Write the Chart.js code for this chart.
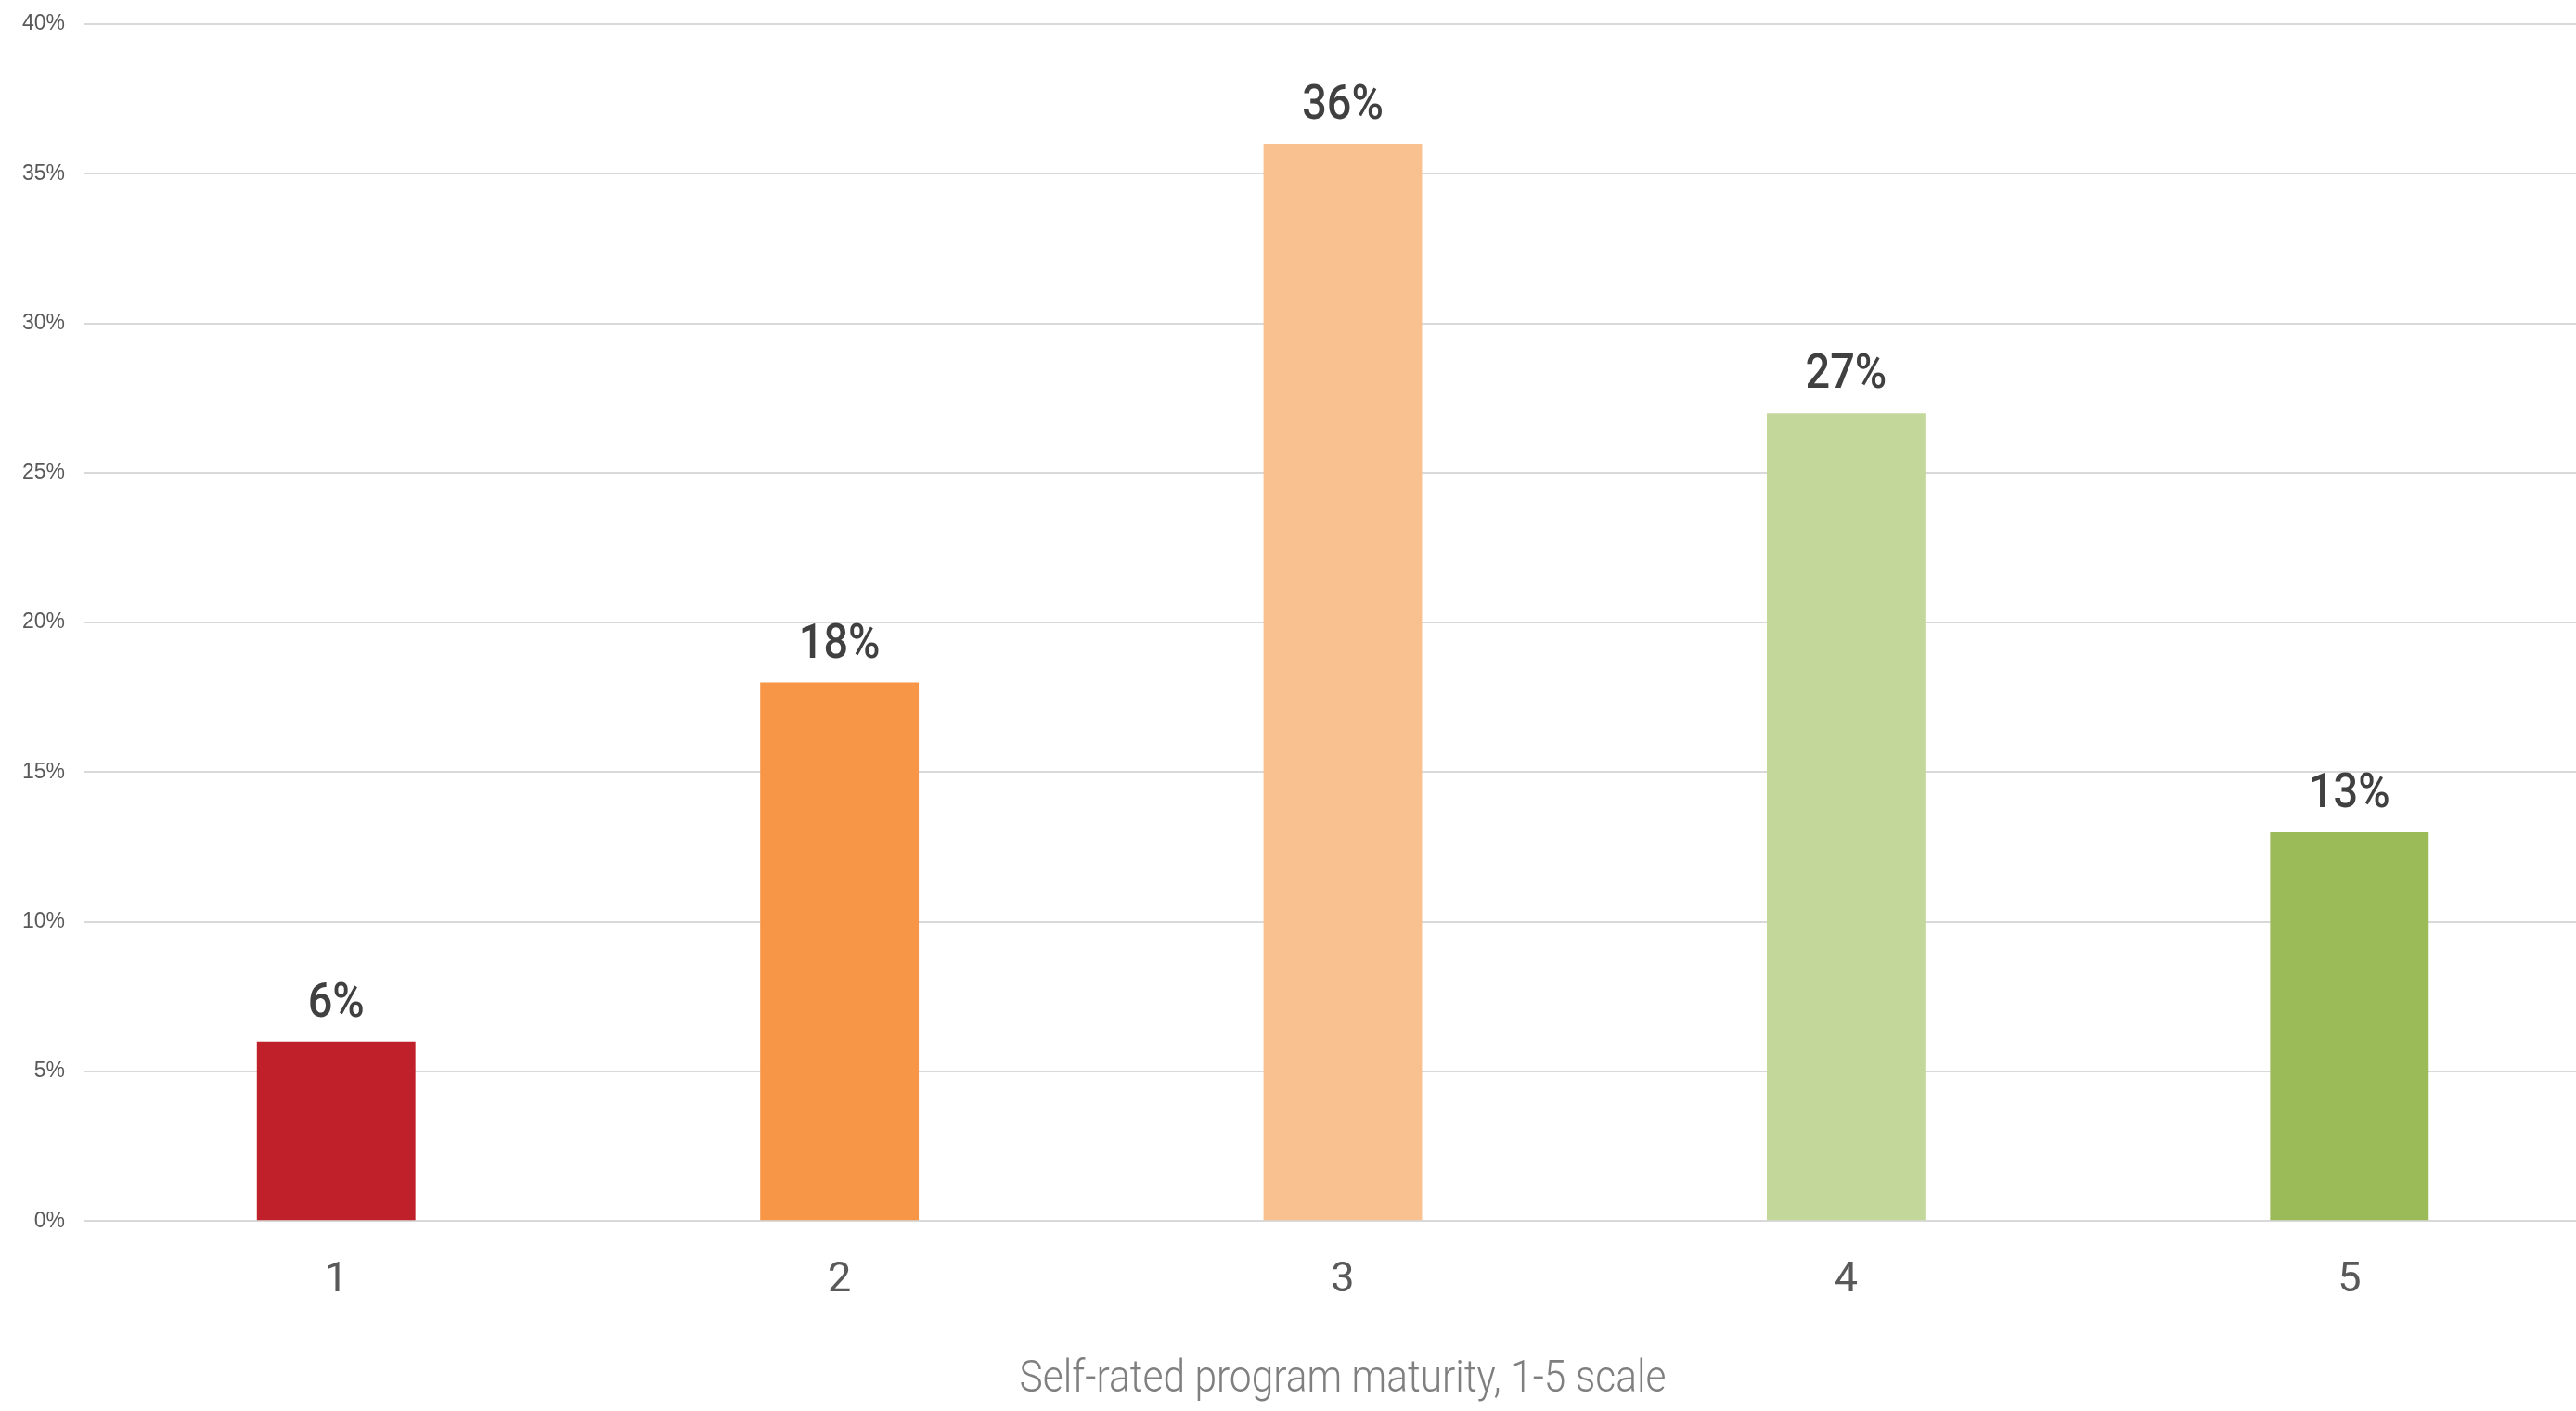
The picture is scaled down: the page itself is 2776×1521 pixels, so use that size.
<!DOCTYPE html>
<html>
<head>
<meta charset="utf-8">
<script src="https://cdn.jsdelivr.net/npm/chart.js@4/dist/chart.umd.min.js"></script>
<style>
  html, body { margin: 0; padding: 0; background: #fff; overflow: hidden; }
  #wrap { position: relative; width: 2803px; height: 1521px; }
</style>
</head>
<body>
<div id="wrap"><canvas id="maturityChart"></canvas></div>
<script>
const categories = ["1", "2", "3", "4", "5"];
const shares = [6, 18, 36, 27, 13];
const barColors = ["#C0202A", "#F79646", "#F9C090", "#C4D79B", "#9BBB59"];
const yTicks = [0, 5, 10, 15, 20, 25, 30, 35, 40];
const axisTitle = "Self-rated program maturity, 1-5 scale";

// the original uses a condensed face; squeeze the text to get close
const labelSqueeze = 0.9;
const titleWidth = 697;

// value labels above each bar
const barLabels = {
    id: "barLabels",
    afterDatasetsDraw(chart) {
        const ctx = chart.ctx;
        const meta = chart.getDatasetMeta(0);
        ctx.save();
        ctx.font = "500 52px Roboto, 'DejaVu Sans', sans-serif";
        ctx.fillStyle = "#404040";
        ctx.textAlign = "center";
        ctx.textBaseline = "alphabetic";
        meta.data.forEach((bar, i) => {
            ctx.save();
            ctx.translate(bar.x, bar.y - 27);
            ctx.scale(labelSqueeze, 1);
            ctx.fillText(shares[i] + "%", 0, 0);
            ctx.restore();
        });
        ctx.restore();
    }
};

// narrows the x scale box while the axis title is drawn so it gets a maxWidth,
// then puts it back before the bars (their clip area comes from the scale)
function restoreX(chart) {
    if (chart.$savedX) {
        const s = chart.scales.x;
        s.left = chart.$savedX[0];
        s.right = chart.$savedX[1];
        chart.$savedX = null;
    }
}
const narrowTitle = {
    id: "narrowTitle",
    beforeDraw(chart) {
        const s = chart.scales.x;
        const mid = (s.left + s.right) / 2;
        chart.$savedX = [s.left, s.right];
        s.left = mid - titleWidth / 2;
        s.right = mid + titleWidth / 2;
    },
    beforeDatasetsDraw(chart) { restoreX(chart); },
    afterDraw(chart) { restoreX(chart); }
};

const ctx = document.getElementById("maturityChart").getContext("2d");
new Chart(ctx, {
    type: "bar",
    data: {
        labels: categories,
        datasets: [{
            data: shares,
            backgroundColor: barColors,
            borderWidth: 0,
            barPercentage: 0.315,
            categoryPercentage: 1
        }]
    },
    options: {
        responsive: true,
        maintainAspectRatio: false,
        animation: false,
        layout: { padding: { left: 3, top: 26, right: 0, bottom: 0 } },
        plugins: {
            legend: { display: false },
            tooltip: { enabled: false }
        },
        scales: {
            x: {
                grid: { display: false, drawTicks: false },
                border: { display: false },
                ticks: {
                    color: "#595959",
                    padding: 38,
                    font: { family: "Roboto, 'DejaVu Sans', sans-serif", size: 45 }
                },
                title: {
                    display: true,
                    text: axisTitle,
                    color: "#7F7F7F",
                    padding: { top: 12, bottom: 4 },
                    font: { family: "Roboto, 'DejaVu Sans', sans-serif", size: 49, weight: 300 }
                }
            },
            y: {
                min: 0,
                max: 40,
                afterBuildTicks(scale) {
                    scale.ticks = yTicks.map(v => ({ value: v }));
                },
                afterFit(scale) {
                    scale.paddingTop = 0;
                },
                grid: { color: "#D9D9D9", lineWidth: 2, drawTicks: false },
                border: { display: false },
                ticks: {
                    color: "#595959",
                    padding: 21,
                    font: { family: "'Liberation Sans', Arial, sans-serif", size: 23 },
                    callback: v => v + "%"
                }
            }
        }
    },
    plugins: [barLabels, narrowTitle]
});
</script>
</body>
</html>
